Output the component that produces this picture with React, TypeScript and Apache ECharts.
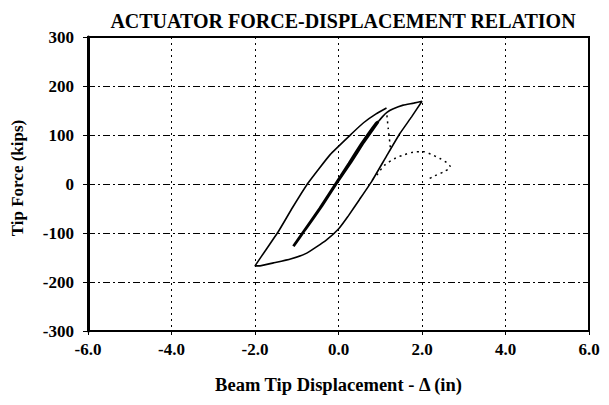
import React, { useEffect, useRef } from "react";
import * as echarts from "echarts";

// Thick inner narrow loop (small cycles)
const innerLoop: [number, number][] = [
  [-1.08, -127], [-0.8, -93], [-0.4, -45], [-0.06, 0], [0.3, 45], [0.6, 85], [0.95, 127],
  [0.9, 124], [0.55, 82], [0.25, 42], [-0.1, -4], [-0.45, -50], [-0.85, -99], [-1.08, -127],
];

// Outer hysteresis loop
const outerLoop: [number, number][] = [
  [0.95, 127], [1.05, 137], [1.16, 146], [1.3, 153], [1.55, 161], [1.8, 165], [2.0, 169],
  [1.75, 137], [1.47, 103], [1.15, 57], [0.8, 6], [0.5, -32], [0.22, -67], [0.0, -92],
  [-0.3, -115], [-0.76, -141], [-1.15, -153], [-1.56, -161], [-1.88, -167], [-2.0, -167],
  [-1.72, -132], [-1.44, -97], [-1.1, -48], [-0.72, 3], [-0.2, 60], [0.32, 103],
  [0.6, 125], [0.9, 143], [1.15, 155],
];

// Dotted segments
const dottedDrop: [number, number][] = [
  [1.16, 140], [1.19, 114], [1.23, 84], [1.25, 68],
];
const dottedArc: [number, number][] = [
  [0.92, 18], [1.1, 38], [1.35, 52], [1.55, 59], [1.79, 65], [2.03, 66], [2.23, 60],
  [2.43, 52], [2.6, 43], [2.68, 35], [2.52, 25], [2.31, 17], [2.11, 8],
];

const xTicks = [-6, -4, -2, 0, 2, 4, 6];
const yTicks = [-300, -200, -100, 0, 100, 200, 300];

const FONT = "'Liberation Serif', 'Times New Roman', serif";

export default function App() {
  const ref = useRef<HTMLDivElement>(null);
  useEffect(() => {
    if (!ref.current) return;
    const chart = echarts.init(ref.current, undefined, { renderer: "svg" });
    chart.setOption({
      animation: false,
      backgroundColor: "#ffffff",
      title: {
        text: "ACTUATOR FORCE-DISPLACEMENT RELATION",
        left: 338,
        top: 6,
        textAlign: "center",
        textStyle: { fontFamily: FONT, fontWeight: "bold", fontSize: 20, color: "#000" },
      },
      grid: {
        left: 88,
        right: 20,
        top: 37,
        bottom: 74,
        show: true,
        borderColor: "#000",
        borderWidth: 2,
        backgroundColor: "transparent",
      },
      xAxis: {
        type: "value",
        min: xTicks[0],
        max: xTicks[xTicks.length - 1],
        interval: 2,
        name: "Beam Tip Displacement - Δ (in)",
        nameLocation: "middle",
        nameGap: 44,
        nameTextStyle: { fontFamily: FONT, fontWeight: "bold", fontSize: 18.5, color: "#000" },
        axisLine: { show: true, onZero: false, lineStyle: { color: "#000", width: 2 } },
        axisTick: { show: true, length: 4, lineStyle: { color: "#000" } },
        axisLabel: {
          fontFamily: FONT,
          fontWeight: "bold",
          fontSize: 17,
          color: "#000",
          margin: 10,
          formatter: (v: number) => v.toFixed(1),
        },
        splitLine: { show: true, lineStyle: { color: "#000", width: 1, type: [2, 4] } },
      },
      yAxis: {
        type: "value",
        min: yTicks[0],
        max: yTicks[yTicks.length - 1],
        interval: 100,
        axisLine: { show: true, onZero: false, lineStyle: { color: "#000", width: 3 } },
        axisTick: { show: true, length: 5, lineStyle: { color: "#000" } },
        axisLabel: {
          fontFamily: FONT,
          fontWeight: "bold",
          fontSize: 17,
          color: "#000",
          margin: 14,
        },
        splitLine: { show: true, lineStyle: { color: "#000", width: 1, type: [7, 3, 2, 3] } },
      },
      graphic: [
        {
          type: "text",
          x: 17,
          y: 178,
          rotation: Math.PI / 2,
          style: {
            text: "Tip Force (kips)",
            font: "bold 17px 'Liberation Serif', serif",
            fill: "#000",
            align: "center",
            verticalAlign: "middle",
          },
        },
      ],
      series: [
        {
          type: "line",
          data: outerLoop,
          showSymbol: false,
          smooth: 0.12,
          lineStyle: { color: "#000", width: 1.6 },
          z: 3,
        },
        {
          type: "line",
          data: innerLoop,
          showSymbol: false,
          smooth: 0.1,
          lineStyle: { color: "#000", width: 2.8 },
          z: 3,
        },
        {
          type: "line",
          data: dottedDrop,
          showSymbol: false,
          smooth: 0.2,
          lineStyle: { color: "#000", width: 1.5, type: [2, 4] },
          z: 3,
        },
        {
          type: "line",
          data: dottedArc,
          showSymbol: false,
          smooth: 0.3,
          lineStyle: { color: "#000", width: 1.5, type: [2, 4] },
          z: 3,
        },
      ],
    });
    return () => chart.dispose();
  }, []);
  return <div ref={ref} style={{ width: 609, height: 405, position: "absolute", left: 0, top: 0 }} />;
}
